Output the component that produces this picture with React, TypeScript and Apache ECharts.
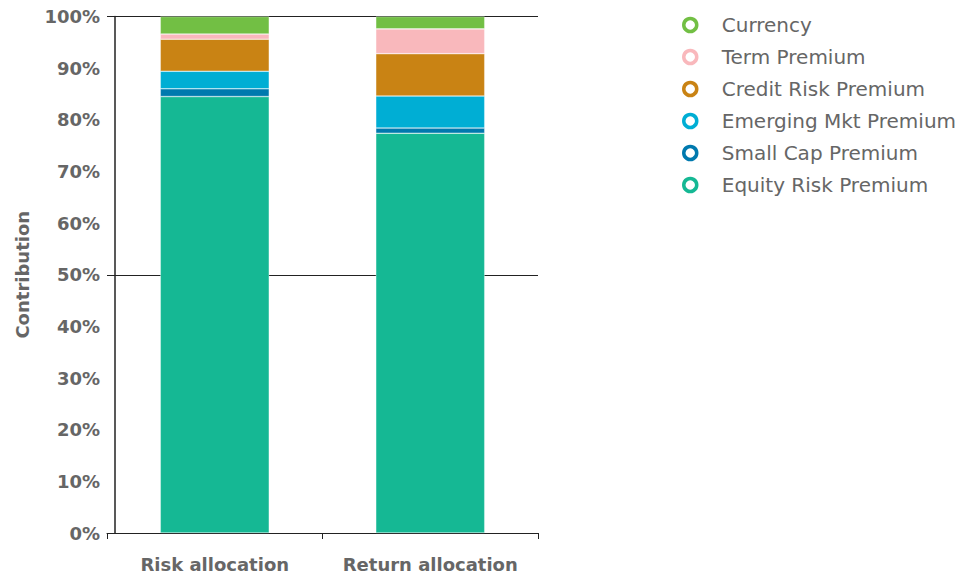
import React, { useEffect, useRef } from "react";
import * as echarts from "echarts";

const categories = ["Risk allocation", "Return allocation"];
const seriesNames = [
  "Equity Risk Premium",
  "Small Cap Premium",
  "Emerging Mkt Premium",
  "Credit Risk Premium",
  "Term Premium",
  "Currency",
];
const equityRisk = [84.5, 77.4];
const smallCap = [1.5, 1.0];
const emergingMkt = [3.4, 6.2];
const creditRisk = [6.2, 8.2];
const termPremium = [1.0, 4.8];
const currency = [3.4, 2.4];
const colors = ["#15B894", "#0079AE", "#00AED4", "#C98314", "#F9B8BC", "#72BF44"];
const legendOrder = [
  "Currency",
  "Term Premium",
  "Credit Risk Premium",
  "Emerging Mkt Premium",
  "Small Cap Premium",
  "Equity Risk Premium",
];

const FONT = "DejaVu Sans";

export default function App() {
  const ref = useRef<HTMLDivElement>(null);
  useEffect(() => {
    if (!ref.current) return;
    const chart = echarts.init(ref.current, null, { renderer: "svg" });
    const values = [equityRisk, smallCap, emergingMkt, creditRisk, termPremium, currency];
    const series = seriesNames.map((name, i) => ({
      name,
      type: "bar",
      stack: "total",
      barWidth: 109,
      data: values[i],
      itemStyle: { color: colors[i], borderColor: "rgba(255,255,255,0.6)", borderWidth: 0.6 },
      yAxisIndex: 0,
    }));
    chart.setOption({
      animation: false,
      textStyle: { fontFamily: FONT },
      grid: { left: 107, right: 425, top: 16.5, bottom: 43 },
      legend: {
        orient: "vertical",
        left: 677,
        top: 10,
        itemWidth: 13,
        itemHeight: 13,
        itemGap: 12,
        icon: "circle",
        data: legendOrder.map((n) => ({
          name: n,
          itemStyle: {
            color: "#fff",
            borderColor: colors[seriesNames.indexOf(n)],
            borderWidth: 3.5,
          },
        })),
        textStyle: {
          fontFamily: FONT,
          fontSize: 20,
          lineHeight: 20,
          color: "#666",
          padding: [0, 0, 0, 20],
        },
      },
      xAxis: {
        type: "category",
        data: categories,
        axisLine: { show: true, lineStyle: { color: "#222", width: 1 } },
        axisTick: { show: true, interval: 0, length: 6, lineStyle: { color: "#222" } },
        axisLabel: {
          interval: 0,
          margin: 22,
          fontFamily: FONT,
          fontSize: 18,
          fontWeight: "bold",
          color: "#666",
        },
      },
      yAxis: [
        {
          type: "value",
          min: 0,
          max: 100,
          interval: 10,
          offset: -8,
          name: "Contribution",
          nameLocation: "middle",
          nameGap: 84,
          nameTextStyle: { fontFamily: FONT, fontSize: 18, fontWeight: "bold", color: "#666" },
          axisLine: { show: true, lineStyle: { color: "#222", width: 1.5 } },
          axisTick: { show: false },
          splitLine: { show: false },
          axisLabel: {
            formatter: "{value}%",
            margin: 15,
            fontFamily: FONT,
            fontSize: 18,
            fontWeight: "bold",
            color: "#666",
          },
        },
        {
          type: "value",
          min: 0,
          max: 100,
          interval: 50,
          position: "left",
          axisLine: { show: false },
          axisTick: { show: false },
          axisLabel: { show: false },
          splitLine: { show: true, lineStyle: { color: "#222", width: 1 } },
        },
      ],
      series,
    });
    return () => chart.dispose();
  }, []);
  return (
    <div
      ref={ref}
      style={{ position: "fixed", left: 0, top: 0, width: 963, height: 576, background: "#fff" }}
    />
  );
}
